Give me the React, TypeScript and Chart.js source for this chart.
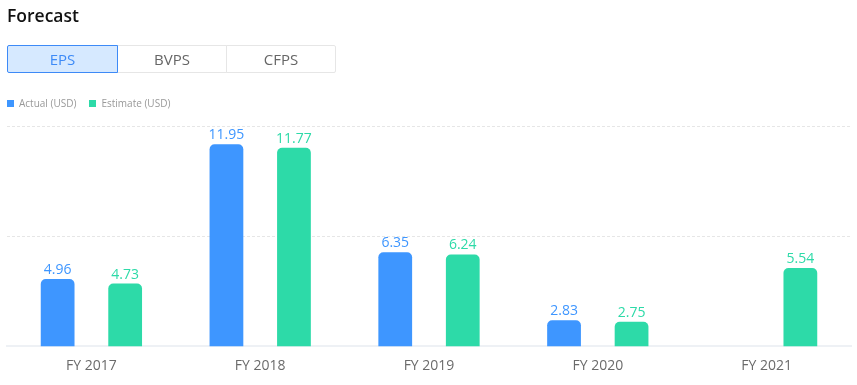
import React, { useEffect, useRef } from "react";
import { Chart, registerables } from "chart.js";

Chart.register(...registerables);

const categories = ["FY 2017", "FY 2018", "FY 2019", "FY 2020", "FY 2021"];
const actualValues: (number | null)[] = [4.96, 11.95, 6.35, 2.83, null];
const estimateValues: (number | null)[] = [4.73, 11.77, 6.24, 2.75, 5.54];
const yMin = 1.48;
const yMax = 12.9;
const yTickValues = [1.48, 7.19, 12.9];
const tabLabels = ["EPS", "BVPS", "CFPS"];
const legendLabels = ["Actual (USD)", "Estimate (USD)"];

const BLUE = "#3e96ff";
const GREEN = "#2ddaa8";
const FONT = '"Open Sans", sans-serif';

const valueLabelPlugin = {
  id: "valueLabels",
  afterDatasetsDraw(chart: any) {
    const ctx = chart.ctx;
    chart.data.datasets.forEach((ds: any, i: number) => {
      const meta = chart.getDatasetMeta(i);
      meta.data.forEach((el: any, j: number) => {
        const v = ds.data[j];
        if (v == null) return;
        ctx.save();
        ctx.fillStyle = ds.backgroundColor;
        ctx.font = `14px ${FONT}`;
        ctx.textAlign = "center";
        ctx.textBaseline = "alphabetic";
        ctx.fillText(Number(v).toFixed(2), el.x, el.y - 5);
        ctx.restore();
      });
    });
  },
};

export default function App() {
  const ref = useRef<HTMLCanvasElement | null>(null);

  useEffect(() => {
    if (!ref.current) return;
    const chart = new Chart(ref.current, {
      type: "bar",
      data: {
        labels: categories,
        datasets: [
          {
            label: legendLabels[0],
            data: actualValues,
            backgroundColor: BLUE,
            borderRadius: { topLeft: 5, topRight: 5, bottomLeft: 0, bottomRight: 0 },
            borderSkipped: false,
            categoryPercentage: 0.8,
            barPercentage: 0.5,
          },
          {
            label: legendLabels[1],
            data: estimateValues,
            backgroundColor: GREEN,
            borderRadius: { topLeft: 5, topRight: 5, bottomLeft: 0, bottomRight: 0 },
            borderSkipped: false,
            categoryPercentage: 0.8,
            barPercentage: 0.5,
          },
        ],
      } as any,
      options: {
        responsive: false,
        animation: false,
        layout: { padding: { top: 126, left: 7, right: 6, bottom: 0 } },
        plugins: { legend: { display: false }, tooltip: { enabled: false } },
        scales: {
          x: {
            grid: { display: false, drawTicks: false },
            border: { display: true, color: "#eef1f5", width: 2 },
            ticks: {
              color: "#6b6b6b",
              font: { family: FONT, size: 14 },
              padding: 11,
              maxRotation: 0,
            },
          },
          y: {
            min: yMin,
            max: yMax,
            afterBuildTicks: (scale: any) => {
              scale.ticks = yTickValues.map((v) => ({ value: v }));
            },
            ticks: { display: false },
            border: { display: false, dash: [3, 2] },
            grid: {
              drawTicks: false,
              lineWidth: 1,
              color: (c: any) => (c.tick && c.tick.value === yMin ? "rgba(0,0,0,0)" : "#e6e6e6"),
            },
          },
        },
      } as any,
      plugins: [valueLabelPlugin],
    });
    return () => chart.destroy();
  }, []);

  return (
    <div style={{ position: "absolute", left: 0, top: 0, width: 857, height: 385, background: "#fff", fontFamily: FONT }}>
      <canvas ref={ref} width={857} height={385} style={{ position: "absolute", left: 0, top: 0, width: 857, height: 385 }} />
      <div style={{ position: "absolute", left: 7, top: 3, fontSize: 17.5, fontWeight: 600, color: "#111", lineHeight: "24px" }}>
        Forecast
      </div>
      <div style={{ position: "absolute", left: 7, top: 45, display: "flex" }}>
        {tabLabels.map((t, i) => (
          <div
            key={t}
            style={{
              boxSizing: "border-box",
              width: i === 0 ? 111 : 110,
              height: 28,
              marginLeft: i === 0 ? 0 : -1,
              border: `1px solid ${i === 0 ? "#3d8af7" : "#e6e6e6"}`,
              background: i === 0 ? "#d6e9ff" : "#fff",
              color: i === 0 ? "#3d8af7" : "#666",
              fontSize: 15,
              display: "flex",
              alignItems: "center",
              justifyContent: "center",
              zIndex: i === 0 ? 2 : 1,
              position: "relative",
              borderRadius: i === 0 ? "2px 0 0 2px" : i === 2 ? "0 2px 2px 0" : 0,
            }}
          >
            {t}
          </div>
        ))}
      </div>
      <div style={{ position: "absolute", left: 7, top: 96, display: "flex", alignItems: "center", fontSize: 10, color: "#999", lineHeight: "14px" }}>
        <span style={{ width: 7, height: 7, background: BLUE, display: "inline-block", marginRight: 5 }} />
        <span style={{ marginRight: 13 }}>{legendLabels[0]}</span>
        <span style={{ width: 7, height: 7, background: GREEN, display: "inline-block", marginRight: 5 }} />
        <span>{legendLabels[1]}</span>
      </div>
    </div>
  );
}
